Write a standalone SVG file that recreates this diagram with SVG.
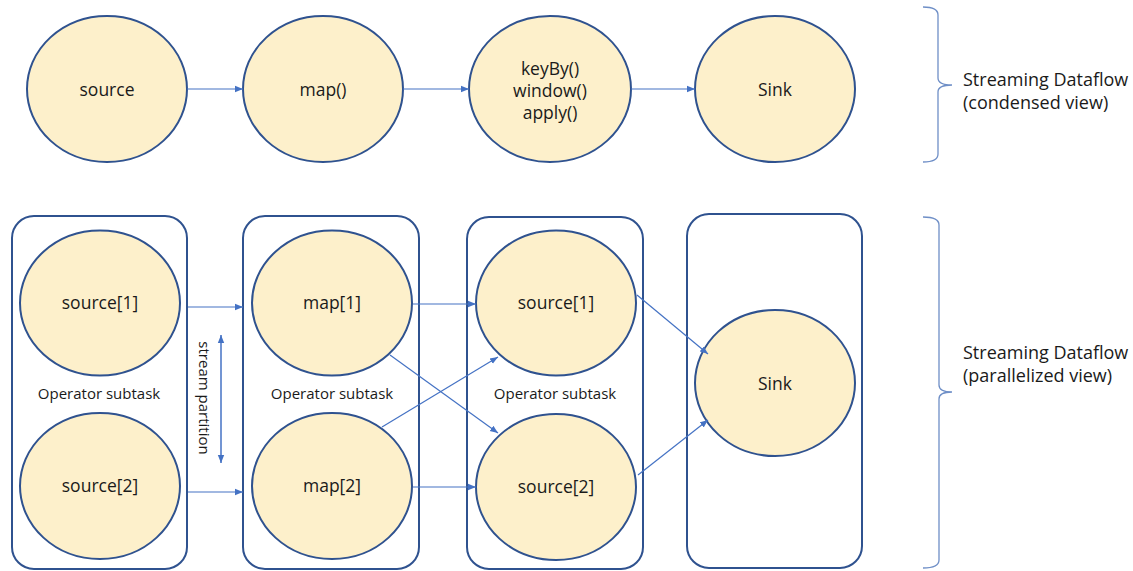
<svg xmlns="http://www.w3.org/2000/svg" width="1133" height="571" viewBox="0 0 1133 571">
  <style>
    .op { fill: #FDF0CB; stroke: #2F528F; stroke-width: 2; }
    .box { fill: none; stroke: #2F528F; stroke-width: 2; }
    .lbl { font-family: "Open Sans", "Liberation Sans", sans-serif; font-size: 17.5px; fill: #1a1a1a; text-anchor: middle; }
    .sub { font-family: "Open Sans", "Liberation Sans", sans-serif; font-size: 15px; fill: #1a1a1a; text-anchor: middle; }
    .side { font-family: "Open Sans", "Liberation Sans", sans-serif; font-size: 18px; fill: #1a1a1a; }
    .edge { fill: none; stroke: #4472C4; stroke-width: 1.2; marker-end: url(#arr); }
    .brace { fill: none; stroke: #6F8FC7; stroke-width: 1.3; }
  </style>
  <defs>
    <marker id="arr" viewBox="0 0 10 10" refX="10" refY="5" markerWidth="8" markerHeight="8" markerUnits="userSpaceOnUse" orient="auto-start-reverse">
      <path d="M0,1 L10,5 L0,9 z" fill="#4472C4"/>
    </marker>
  </defs>

  <!-- condensed view -->
  <g id="n-source">
    <ellipse class="op" cx="107" cy="89" rx="80" ry="73"/>
    <text class="lbl" x="107" y="96">source</text>
  </g>
  <g id="n-map">
    <ellipse class="op" cx="323" cy="89" rx="80" ry="73"/>
    <text class="lbl" x="323" y="96">map()</text>
  </g>
  <g id="n-window">
    <ellipse class="op" cx="550" cy="89" rx="81" ry="73"/>
    <text class="lbl" x="550" y="75">keyBy()</text>
    <text class="lbl" x="550" y="97">window()</text>
    <text class="lbl" x="550" y="119">apply()</text>
  </g>
  <g id="n-sink">
    <ellipse class="op" cx="775" cy="89" rx="80" ry="73"/>
    <text class="lbl" x="775" y="96">Sink</text>
  </g>

  <!-- parallelized view: subtask containers -->
  <g id="g-source">
    <rect class="box" x="12" y="216" width="175" height="353" rx="22"/>
    <text class="sub" x="99" y="399">Operator subtask</text>
  </g>
  <g id="g-map">
    <rect class="box" x="243" y="216" width="176" height="353" rx="22"/>
    <text class="sub" x="332" y="399">Operator subtask</text>
  </g>
  <g id="g-window">
    <rect class="box" x="467" y="217" width="176" height="352" rx="22"/>
    <text class="sub" x="555" y="399">Operator subtask</text>
  </g>
  <g id="g-sink">
    <rect class="box" x="687" y="214" width="175" height="354" rx="22"/>
  </g>

  <g id="p-source1">
    <ellipse class="op" cx="100" cy="303" rx="80" ry="72.5"/>
    <text class="lbl" x="100" y="309">source[1]</text>
  </g>
  <g id="p-source2">
    <ellipse class="op" cx="100" cy="486" rx="80" ry="73"/>
    <text class="lbl" x="100" y="492">source[2]</text>
  </g>
  <g id="p-map1">
    <ellipse class="op" cx="332" cy="303" rx="80" ry="72.5"/>
    <text class="lbl" x="332" y="309">map[1]</text>
  </g>
  <g id="p-map2">
    <ellipse class="op" cx="332" cy="486" rx="80" ry="73"/>
    <text class="lbl" x="332" y="492">map[2]</text>
  </g>
  <g id="p-window1">
    <ellipse class="op" cx="556" cy="303" rx="80" ry="72.5"/>
    <text class="lbl" x="556" y="309">source[1]</text>
  </g>
  <g id="p-window2">
    <ellipse class="op" cx="556" cy="487" rx="80" ry="73"/>
    <text class="lbl" x="556" y="493">source[2]</text>
  </g>
  <g id="p-sink">
    <ellipse class="op" cx="775" cy="383" rx="80" ry="73"/>
    <text class="lbl" x="775" y="390">Sink</text>
  </g>

  <!-- stream partition label -->
  <g id="partition">
    <text class="sub" transform="translate(204,398) rotate(90)" x="0" y="5">stream partition</text>
  </g>

  <!-- connectors -->
  <g id="connectors">
    <line class="edge" x1="187" y1="89" x2="243" y2="89"/>
    <line class="edge" x1="403" y1="89" x2="469" y2="89"/>
    <line class="edge" x1="631" y1="89" x2="695" y2="89"/>

    <line class="edge" x1="188" y1="307" x2="243" y2="307"/>
    <line class="edge" x1="188" y1="492" x2="243" y2="492"/>
    <line class="edge" x1="413" y1="304" x2="476" y2="304"/>
    <line class="edge" x1="413" y1="487" x2="476" y2="487"/>
    <line class="edge" x1="390" y1="355" x2="498" y2="433"/>
    <line class="edge" x1="382" y1="427" x2="498" y2="357"/>
    <line class="edge" x1="637" y1="295" x2="708" y2="354"/>
    <line class="edge" x1="638" y1="475" x2="708" y2="420"/>

    <line class="edge" x1="221" y1="335" x2="221" y2="463" marker-start="url(#arr)" style="stroke-width:1.5"/>
  </g>

  <!-- view braces and captions -->
  <g id="brace-condensed">
    <path class="brace" d="M923,7 Q938,7 938,15 L938,78 Q938,85 952,85 Q938,85 938,92 L938,154 Q938,162 923,162"/>
    <text class="side" x="963" y="86">Streaming Dataflow</text>
    <text class="side" x="963" y="109">(condensed view)</text>
  </g>
  <g id="brace-parallel">
    <path class="brace" d="M923,217 Q939,217 939,225 L939,385 Q939,392 952,392 Q939,392 939,399 L939,560 Q939,568 923,568"/>
    <text class="side" x="963" y="359">Streaming Dataflow</text>
    <text class="side" x="963" y="382">(parallelized view)</text>
  </g>
</svg>
